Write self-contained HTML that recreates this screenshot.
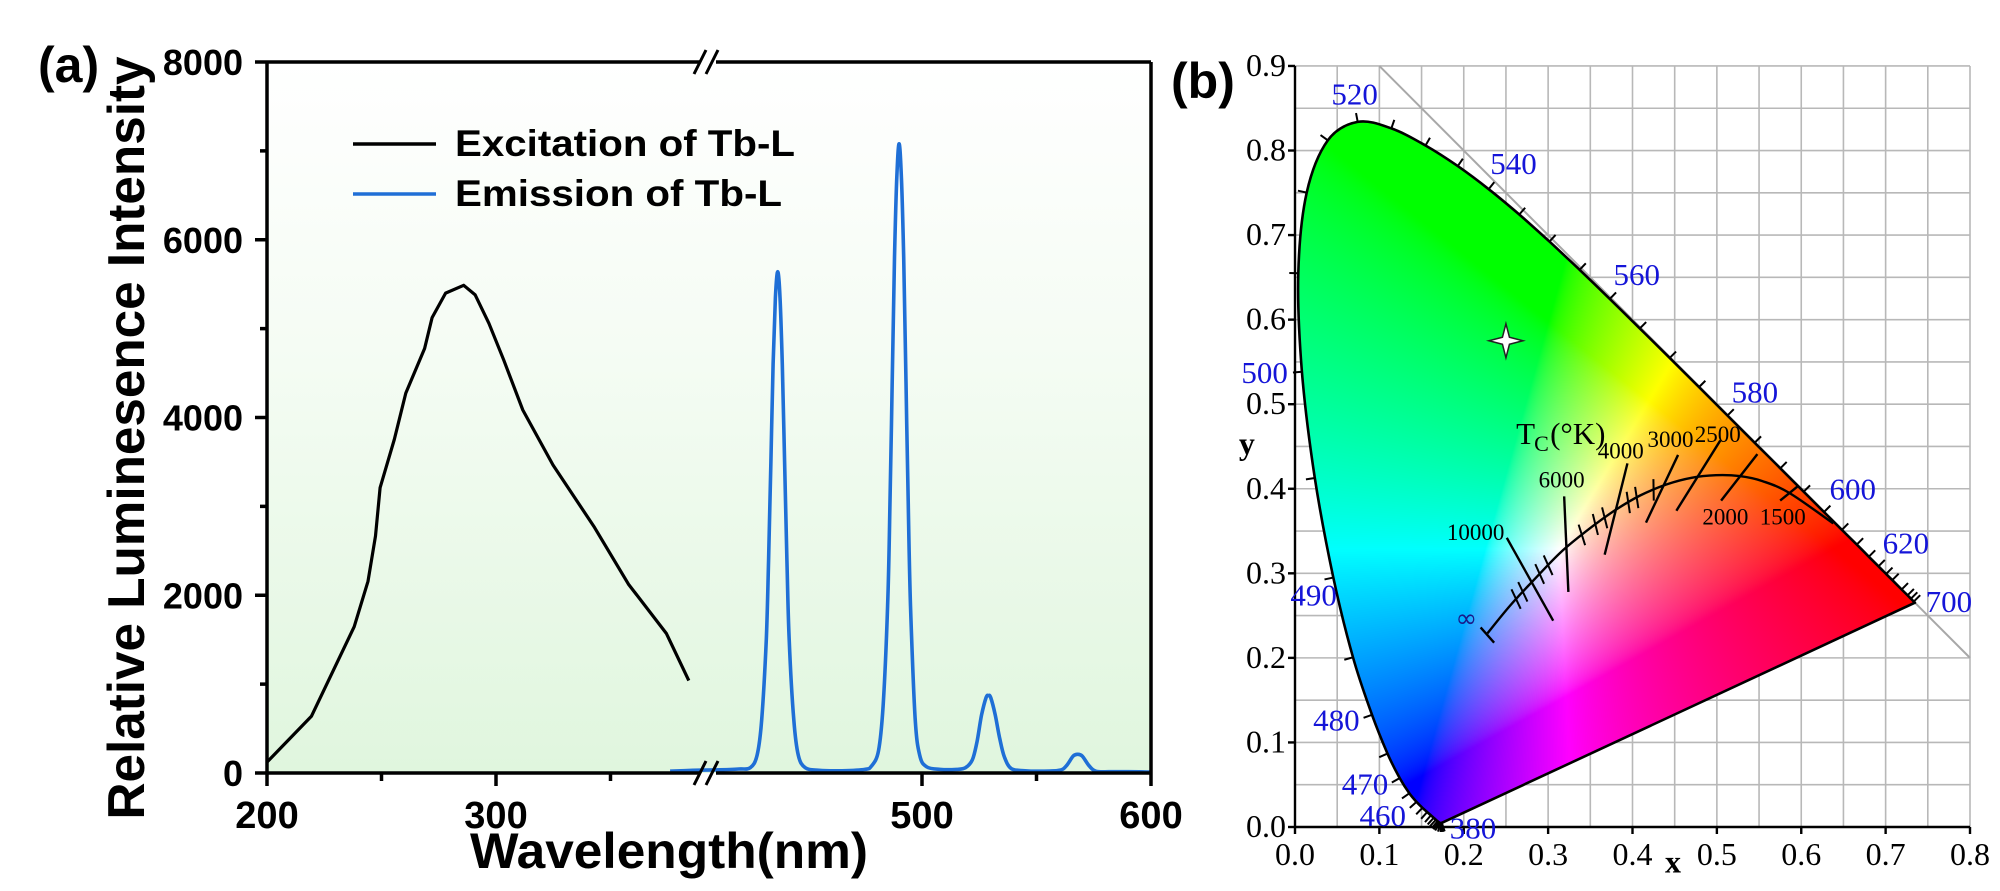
<!DOCTYPE html>
<html><head><meta charset="utf-8">
<style>
html,body{margin:0;padding:0;background:#fff;}
#wrap{position:relative;width:2000px;height:891px;overflow:hidden;}
canvas,svg{position:absolute;left:0;top:0;}
</style></head>
<body>
<div id="wrap">
<canvas id="cie" width="2000" height="891"></canvas>
<svg id="svg" width="2000" height="891" xmlns="http://www.w3.org/2000/svg"></svg>
</div>
<script>
// ---------- Panel (a) data ----------
const excWl = [200.2,219.4,238.1,244.1,247.4,249.4,255.6,260.6,268.8,272.1,278,285.9,290.9,296.9,303.4,311.7,324.9,343,357.8,374.4,384.2];
const excVal = [128,638,1646,2157,2667,3210,3752,4275,4776,5124,5400,5488,5380,5060,4645,4084,3465,2763,2125,1570,1040];
const emWl = [390,400,410,420,425,428,430,432,433,434,435,436,437,438,439,440,441,442,444,446,449,455,465,475,478,481,483,485,486,487,488,489,490,491,492,493,494,495,497,499,502,508,515,519,522,524,526,528,529,530,532,534,536,539,545,552,560,563,566,568,570,573,576,582,590,600];
const emVal = [20,30,35,45,60,200,600,1500,2400,3500,4600,5350,5640,5350,4600,3500,2400,1500,600,200,60,30,25,40,80,250,750,1880,3000,4400,5800,6700,7080,6700,5800,4400,3000,1880,620,200,70,40,40,60,150,350,650,850,870,850,650,380,180,50,25,20,30,80,190,210,190,80,20,15,15,10];
const yTicks = [0,2000,4000,6000,8000];
const yTickLabels = ["0","2000","4000","6000","8000"];
const xTicksLeft = [200,300];
const xTicksRight = [500,600];
const xMinorLeft = [250,350];
const xMinorRight = [550];

// ---------- Panel (b) data ----------
const locusWl = [380,385,390,395,400,405,410,415,420,425,430,435,440,445,450,455,460,465,470,475,480,485,490,495,500,505,510,515,520,525,530,535,540,545,550,555,560,565,570,575,580,585,590,595,600,605,610,615,620,625,630,640,650,660,680,700];
const locusX = [.1741,.1740,.1738,.1736,.1733,.1730,.1726,.1721,.1714,.1703,.1689,.1669,.1644,.1611,.1566,.1510,.1440,.1355,.1241,.1096,.0913,.0687,.0454,.0235,.0082,.0039,.0139,.0389,.0743,.1142,.1547,.1929,.2296,.2658,.3016,.3373,.3731,.4087,.4441,.4788,.5125,.5448,.5752,.6029,.6270,.6482,.6658,.6801,.6915,.7006,.7079,.7190,.7260,.7300,.7334,.7347];
const locusY = [.0050,.0050,.0049,.0049,.0048,.0048,.0048,.0048,.0051,.0058,.0069,.0086,.0109,.0138,.0177,.0227,.0297,.0399,.0578,.0868,.1327,.2007,.2950,.4127,.5384,.6548,.7502,.8120,.8338,.8262,.8059,.7816,.7543,.7243,.6923,.6589,.6245,.5896,.5547,.5202,.4866,.4544,.4242,.3965,.3725,.3514,.3340,.3197,.3083,.2993,.2920,.2809,.2740,.2700,.2666,.2653];
const planckX = [0.228,0.255,0.282,0.315,0.348,0.380,0.409,0.440,0.470,0.499,0.527,0.554,0.586,0.638];
const planckY = [0.229,0.262,0.291,0.325,0.352,0.375,0.392,0.405,0.413,0.416,0.415,0.409,0.395,0.359];
const isoX1 = [0.251,0.319,0.394,0.454,0.504,0.548,0.596];
const isoY1 = [0.342,0.391,0.430,0.440,0.457,0.441,0.403];
const isoX2 = [0.306,0.324,0.367,0.416,0.452,0.505,0.575];
const isoY2 = [0.244,0.278,0.322,0.360,0.374,0.386,0.386];
const hashT = [0.262,0.270,0.290,0.300,0.340,0.356,0.367,0.395,0.405,0.425];
const bxTicks = [0,0.1,0.2,0.3,0.4,0.5,0.6,0.7,0.8];
const byTicks = [0,0.1,0.2,0.3,0.4,0.5,0.6,0.7,0.8,0.9];
const wlLabels = ["520","540","560","580","600","620","700","500","490","480","470","460","380"];
const wlLabX = [0.0707,0.259,0.405,0.545,0.661,0.724,0.775,-0.036,0.022,0.049,0.083,0.104,0.211];
const wlLabY = [0.866,0.784,0.653,0.514,0.399,0.335,0.266,0.537,0.274,0.126,0.050,0.013,-0.002];
const tLabels = ["10000","6000","4000","3000","2500","2000","1500"];
const tLabX = [0.214,0.316,0.386,0.445,0.501,0.510,0.578];
const tLabY = [0.349,0.411,0.445,0.459,0.465,0.367,0.367];
const starX = 0.25, starY = 0.575;

// ---------- scales ----------
const aY0 = 773, aY1 = 62;
function ay(v){ return aY0 + (aY1-aY0)*v/8000; }
function axL(w){ return 267 + (w-200)*2.29; }
function axR(w){ return 922 + (w-500)*2.29; }
const bx0 = 1295, bxk = 843.75, by0 = 827, byk = 845.6;
function bx(x){ return bx0 + x*bxk; }
function by(y){ return by0 - y*byk; }

const NS = "http://www.w3.org/2000/svg";
const svg = document.getElementById('svg');
function mk(tag, attrs, parent){
  const e = document.createElementNS(NS, tag);
  for (const k in attrs) e.setAttribute(k, attrs[k]);
  (parent||svg).appendChild(e);
  return e;
}
function txt(s, attrs, parent){ const e = mk('text', attrs, parent); e.textContent = s; return e; }
function smoothPath(pts, closed){
  const n = pts.length; let s = 'M'+pts[0][0].toFixed(1)+','+pts[0][1].toFixed(1);
  const P = i => closed ? pts[(i+n)%n] : pts[Math.max(0,Math.min(n-1,i))];
  const last = closed ? n : n-1;
  for (let i=0;i<last;i++){
    const p0=P(i-1), p1=P(i), p2=P(i+1), p3=P(i+2);
    const c1=[p1[0]+(p2[0]-p0[0])/6, p1[1]+(p2[1]-p0[1])/6];
    const c2=[p2[0]-(p3[0]-p1[0])/6, p2[1]-(p3[1]-p1[1])/6];
    s += ` C${c1[0].toFixed(1)},${c1[1].toFixed(1)} ${c2[0].toFixed(1)},${c2[1].toFixed(1)} ${p2[0].toFixed(1)},${p2[1].toFixed(1)}`;
  }
  return s + (closed?' Z':'');
}

// ===== Panel (a) =====
const defs = mk('defs', {});
const lg = mk('linearGradient', {id:'bgA', x1:0, y1:0, x2:0, y2:1}, defs);
mk('stop', {offset:'0', 'stop-color':'#ffffff'}, lg);
mk('stop', {offset:'0.4', 'stop-color':'#f5fcf4'}, lg);
mk('stop', {offset:'1', 'stop-color':'#e0f6de'}, lg);

const gA = mk('g', {});


const plotBg = mk('rect', {x:267, y:aY1, width:1151-267, height:aY0-aY1, fill:'url(#bgA)'}, gA);



const excD = excWl.map((w,i)=>(i?'L':'M')+axL(w).toFixed(1)+','+ay(excVal[i]).toFixed(1)).join(' ');
const exc = mk('path', {d:excD, fill:'none', stroke:'#000', 'stroke-width':3.2, 'stroke-linejoin':'round'}, gA);


const em = mk('path', {d:smoothPath(emWl.map((w,i)=>[axR(w), ay(emVal[i])]), false), fill:'none', stroke:'#1f6fd6', 'stroke-width':3.6, 'stroke-linejoin':'round'}, gA);



const ax = mk('g', {stroke:'#000', 'stroke-width':3.5, fill:'none'}, gA);


mk('path', {d:`M267,${aY0} L700,${aY0} M716,${aY0} L1151,${aY0} M267,${aY1} L700,${aY1} M716,${aY1} L1151,${aY1} M267,${aY1} L267,${aY0} M1151,${aY1} L1151,${aY0}`}, ax);
mk('path', {d:`M694,${aY0+12} L706,${aY0-12} M706,${aY0+12} L718,${aY0-12} M694,${aY1+12} L706,${aY1-12} M706,${aY1+12} L718,${aY1-12}`, 'stroke-width':3}, ax);
yTicks.forEach((v,i)=>{
  mk('line', {x1:255, x2:267, y1:ay(v), y2:ay(v)}, ax);
  if (i<yTicks.length-1) mk('line', {x1:260, x2:267, y1:ay(v+1000), y2:ay(v+1000)}, ax);
  const t = txt(yTickLabels[i], {x:243, y:ay(v)+13, 'text-anchor':'end', 'font-family':'Liberation Sans, sans-serif', 'font-weight':'bold', 'font-size':36}, gA);
  
  
});
xTicksLeft.forEach(w=>{ mk('line', {x1:axL(w), x2:axL(w), y1:aY0, y2:aY0+13}, ax);
  const t = txt(String(w), {x:axL(w), y:828, 'text-anchor':'middle', 'font-family':'Liberation Sans, sans-serif', 'font-weight':'bold', 'font-size':38}, gA);
  
   });
xTicksRight.forEach(w=>{ mk('line', {x1:axR(w), x2:axR(w), y1:aY0, y2:aY0+13}, ax);
  const t = txt(String(w), {x:axR(w), y:828, 'text-anchor':'middle', 'font-family':'Liberation Sans, sans-serif', 'font-weight':'bold', 'font-size':38}, gA);
  
   });
xMinorLeft.forEach(w=>mk('line', {x1:axL(w), x2:axL(w), y1:aY0, y2:aY0+8}, ax));
xMinorRight.forEach(w=>mk('line', {x1:axR(w), x2:axR(w), y1:aY0, y2:aY0+8}, ax));

let t = txt('Wavelength(nm)', {x:470, y:868, textLength:398, lengthAdjust:'spacingAndGlyphs', 'font-family':'Liberation Sans, sans-serif', 'font-weight':'bold', 'font-size':50}, gA);
 
t = txt('Relative Luminesence Intensity', {x:0, y:0, textLength:763, lengthAdjust:'spacingAndGlyphs', 'text-anchor':'middle', transform:'translate(144,438) rotate(-90)', 'font-family':'Liberation Sans, sans-serif', 'font-weight':'bold', 'font-size':52}, gA);
 
t = txt('(a)', {x:38, y:82, 'font-family':'Liberation Sans, sans-serif', 'font-weight':'bold', 'font-size':50}, gA);
 

const leg = mk('g', {}, gA);
 
mk('line', {x1:353, x2:436, y1:144, y2:144, stroke:'#000', 'stroke-width':3.5}, leg);
mk('line', {x1:353, x2:436, y1:194, y2:194, stroke:'#1f6fd6', 'stroke-width':3.5}, leg);
t = txt('Excitation of Tb-L', {x:455, y:156, textLength:340, lengthAdjust:'spacingAndGlyphs', 'font-family':'Liberation Sans, sans-serif', 'font-weight':'bold', 'font-size':37}, leg);
 
t = txt('Emission of Tb-L', {x:455, y:206, textLength:327, lengthAdjust:'spacingAndGlyphs', 'font-family':'Liberation Sans, sans-serif', 'font-weight':'bold', 'font-size':37}, leg);
 

// ===== Panel (b) =====
const gB = mk('g', {});
 
const locPts = locusX.map((x,i)=>[bx(x), by(locusY[i])]);
const locD = smoothPath(locPts, false) + ' Z';
(function(){
  const c = document.getElementById('cie'), ctx = c.getContext('2d');
  const X0 = Math.floor(bx(-0.01)), X1 = Math.ceil(bx(0.75)), Y0 = Math.floor(by(0.85)), Y1 = Math.ceil(by(-0.01));
  const w = X1-X0, h = Y1-Y0;
  const img = ctx.createImageData(w, h);
  const g = v => v<=0.0031308 ? 12.92*v : 1.055*Math.pow(v,1/2.4)-0.055;
  for (let j=0;j<h;j++){ const yy = (by0-(Y0+j))/byk;
    for (let i=0;i<w;i++){ const xx = (X0+i-bx0)/bxk;
      const yv = Math.max(yy, 0.003);
      const X = xx/yv, Y = 1, Z = (1-xx-yv)/yv;
      let r = 3.2406*X-1.5372*Y-0.4986*Z, gg = -0.9689*X+1.8758*Y+0.0415*Z, b = 0.0557*X-0.2040*Y+1.0570*Z;
      r=Math.max(r,0); gg=Math.max(gg,0); b=Math.max(b,0);
      const m = Math.max(r,gg,b)||1;
      const k = (j*w+i)*4;
      img.data[k]=255*g(Math.pow(r/m,1.3)); img.data[k+1]=255*g(Math.pow(gg/m,1.3)); img.data[k+2]=255*g(Math.pow(b/m,1.3)); img.data[k+3]=255;
    }}
  const off = document.createElement('canvas'); off.width=w; off.height=h;
  off.getContext('2d').putImageData(img,0,0);
  ctx.save();
  ctx.clip(new Path2D(locD)); ctx.drawImage(off, X0, Y0); ctx.restore();
})();

const grid = mk('g', {stroke:'#b8b8b8', 'stroke-width':1.6}, gB);
 
for (let i=1;i<=16;i++){ const x = bx(i*0.05); mk('line', {x1:x, x2:x, y1:by(0.9), y2:by(0)}, grid); }
for (let i=1;i<=18;i++){ const y = by(i*0.05); mk('line', {x1:bx(0), x2:bx(0.8), y1:y, y2:y}, grid); }
const mask = mk('mask', {id:'gmask'}, defs);
mk('rect', {x:0, y:0, width:2000, height:891, fill:'#fff'}, mask);
mk('path', {d:locD, fill:'#000'}, mask);
grid.setAttribute('mask', 'url(#gmask)');
const diag = mk('line', {x1:bx(0.1), y1:by(0.9), x2:bx(0.8), y2:by(0.2), stroke:'#a8a8a8', 'stroke-width':2}, gB);
 
const loc = mk('path', {d:locD, fill:'none', stroke:'#000', 'stroke-width':2.6, 'stroke-linejoin':'round'}, gB);
 
const cx = bx(0.33), cy = by(0.33);
locusX.forEach((x,i)=>{
  if (i===0||i===locusX.length-1) return;
  const dx = bx(locusX[i+1])-bx(locusX[i-1]), dy = by(locusY[i+1])-by(locusY[i-1]);
  const L = Math.hypot(dx,dy)||1; let nx = dy/L, ny = -dx/L;
  const px = bx(x), py = by(locusY[i]);
  if ((px-cx)*nx+(py-cy)*ny < 0){ nx=-nx; ny=-ny; }
  mk('line', {x1:px, y1:py, x2:px+nx*9, y2:py+ny*9, stroke:'#000', 'stroke-width':2}, gB);
});
const axb = mk('g', {stroke:'#000', 'stroke-width':2.4}, gB);
 
mk('line', {x1:bx(0), x2:bx(0), y1:by(0.9), y2:by(0)+1}, axb);
mk('line', {x1:bx(0)-1, x2:bx(0.8), y1:by(0), y2:by(0)}, axb);
bxTicks.forEach(v=>{ mk('line', {x1:bx(v), x2:bx(v), y1:by(0), y2:by(0)+7}, axb);
  const tt = txt(v.toFixed(1), {x:bx(v), y:by(0)+38, 'text-anchor':'middle', 'font-family':'Liberation Serif, serif', 'font-size':32}, gB);
    });
byTicks.forEach(v=>{ mk('line', {x1:bx(0)-7, x2:bx(0), y1:by(v), y2:by(v)}, axb);
  const tt = txt(v.toFixed(1), {x:bx(0)-9, y:by(v)+10, 'text-anchor':'end', 'font-family':'Liberation Serif, serif', 'font-size':32}, gB);
    });
t = txt('x', {x:bx(0.448), y:by(-0.042)+10, 'text-anchor':'middle', 'font-family':'Liberation Serif, serif', 'font-weight':'bold', 'font-size':32}, gB);
 
t = txt('y', {x:bx(-0.057), y:by(0.453)+10, 'text-anchor':'middle', 'font-family':'Liberation Serif, serif', 'font-weight':'bold', 'font-size':32}, gB);
 
t = txt('(b)', {x:1171, y:98, 'font-family':'Liberation Sans, sans-serif', 'font-weight':'bold', 'font-size':50}, gB);
 
wlLabels.forEach((s,i)=>{ const tt = txt(s, {x:bx(wlLabX[i]), y:by(wlLabY[i])+10, 'text-anchor':'middle', 'font-family':'Liberation Serif, serif', 'font-size':31, fill:'#1515d8'}, gB);
    });
const pl = mk('path', {d:smoothPath(planckX.map((x,i)=>[bx(x), by(planckY[i])]), false), fill:'none', stroke:'#000', 'stroke-width':2.4}, gB);
 
mk('line', {x1:bx(0.220), y1:by(0.236), x2:bx(0.236), y2:by(0.218), stroke:'#000', 'stroke-width':2.4}, gB);
isoX1.forEach((x,i)=>{ const l = mk('line', {x1:bx(x), y1:by(isoY1[i]), x2:bx(isoX2[i]), y2:by(isoY2[i]), stroke:'#000', 'stroke-width':2.4}, gB);
    });
hashT.forEach(xv=>{
  let k=0; while (k<planckX.length-2 && planckX[k+1]<xv) k++;
  const f=(xv-planckX[k])/(planckX[k+1]-planckX[k]); const yv=planckY[k]+f*(planckY[k+1]-planckY[k]);
  const dx=bx(planckX[k+1])-bx(planckX[k]), dy=by(planckY[k+1])-by(planckY[k]); const L=Math.hypot(dx,dy);
  const nx=-dy/L, ny=dx/L; const px=bx(xv), py=by(yv);
  mk('line', {x1:px-nx*10+dx/L*4, y1:py-ny*10+dy/L*4, x2:px+nx*10-dx/L*4, y2:py+ny*10-dy/L*4, stroke:'#000', 'stroke-width':2}, gB);
});
t = txt('T', {x:bx(0.262), y:by(0.465)+10, 'font-family':'Liberation Serif, serif', 'font-size':31}, gB);
 
t = txt('C', {x:bx(0.262)+18, y:by(0.465)+17, 'font-family':'Liberation Serif, serif', 'font-size':22}, gB);
t = txt('(°K)', {x:bx(0.262)+34, y:by(0.465)+10, 'font-family':'Liberation Serif, serif', 'font-size':31}, gB);
tLabels.forEach((s,i)=>{ const tt = txt(s, {x:bx(tLabX[i]), y:by(tLabY[i])+8, 'text-anchor':'middle', 'font-family':'Liberation Serif, serif', 'font-size':23}, gB);
    });
t = txt('∞', {x:bx(0.203), y:by(0.247)+9, 'text-anchor':'middle', 'font-family':'DejaVu Sans, sans-serif', 'font-size':26, fill:'#1a1a8a'}, gB);
 
const sx = bx(starX), sy = by(starY), R=17, r=3.5;
const star = mk('path', {d:`M${sx},${sy-R} L${sx+r},${sy-r} L${sx+R},${sy} L${sx+r},${sy+r} L${sx},${sy+R} L${sx-r},${sy+r} L${sx-R},${sy} L${sx-r},${sy-r} Z`, fill:'#fff', stroke:'#222', 'stroke-width':1.5}, gB);
 
</script>
</body></html>
